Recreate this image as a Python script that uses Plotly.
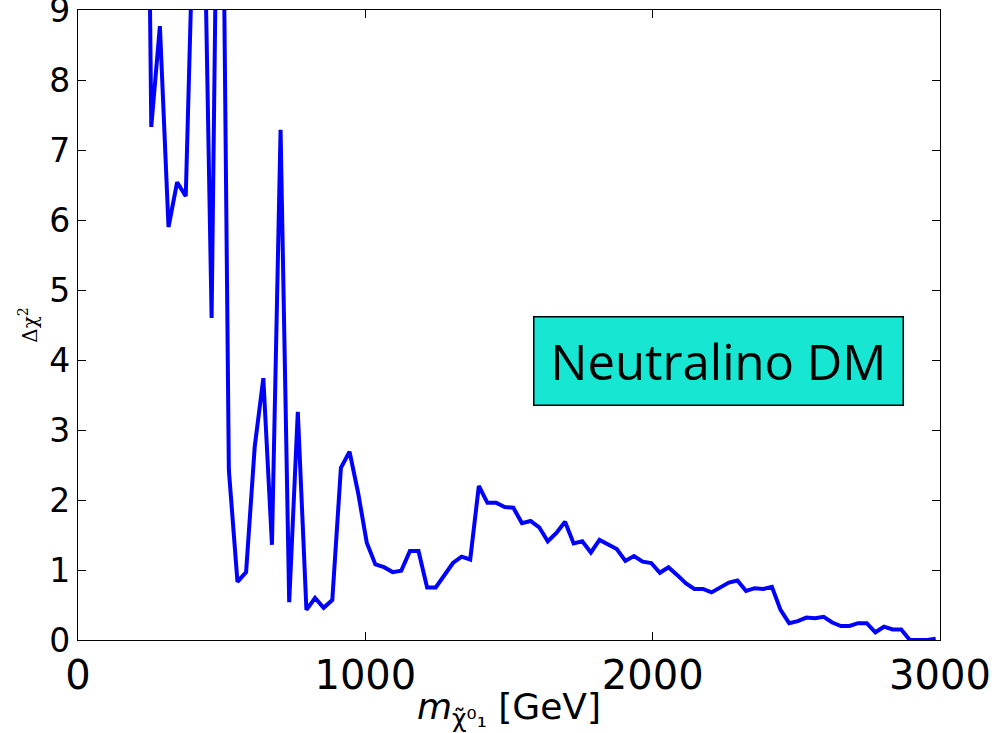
import plotly.graph_objects as go

# neutralino mass grid [GeV] and Delta chi^2 values
mass = [225, 255, 285, 315, 345, 375, 405, 435, 465, 495,
        525, 555, 585, 615, 645, 675, 705, 735, 765, 795,
        825, 855, 885, 915, 945, 975, 1005, 1035, 1065, 1095,
        1125, 1155, 1185, 1215, 1245, 1275, 1305, 1335, 1365, 1395,
        1425, 1455, 1485, 1515, 1545, 1575, 1605, 1635, 1665, 1695,
        1725, 1755, 1785, 1815, 1845, 1875, 1905, 1935, 1965, 1995,
        2025, 2055, 2085, 2115, 2145, 2175, 2205, 2235, 2265, 2295,
        2325, 2355, 2385, 2415, 2445, 2475, 2505, 2535, 2565, 2595,
        2625, 2655, 2685, 2715, 2745, 2775, 2805, 2835, 2865, 2895,
        2925, 2955, 2985]
dchi2 = [19.0, 7.33, 8.77, 5.9, 6.54, 6.34, 10.9, 11.5, 4.6, 15.0,
         2.43, 0.83, 0.97, 2.76, 3.74, 1.36, 7.29, 0.54, 3.26, 0.43,
         0.6, 0.46, 0.57, 2.46, 2.69, 2.1, 1.39, 1.08, 1.04, 0.97,
         0.99, 1.27, 1.27, 0.75, 0.75, 0.93, 1.1, 1.19, 1.15, 2.2,
         1.96, 1.96, 1.9, 1.89, 1.67, 1.7, 1.61, 1.41, 1.53, 1.69,
         1.38, 1.41, 1.25, 1.43, 1.36, 1.3, 1.13, 1.2, 1.12, 1.1,
         0.96, 1.04, 0.93, 0.81, 0.73, 0.73, 0.68, 0.75, 0.82, 0.85,
         0.7, 0.74, 0.73, 0.76, 0.43, 0.24, 0.27, 0.32, 0.31, 0.33,
         0.25, 0.2, 0.2, 0.24, 0.24, 0.11, 0.19, 0.15, 0.15, 0.0,
         0.0, 0.0, 0.02]

x_ticks = [0, 1000, 2000, 3000]
y_ticks = [0, 1, 2, 3, 4, 5, 6, 7, 8, 9]

fig = go.Figure()
fig.add_trace(go.Scatter(
    x=mass, y=dchi2, mode="lines",
    line=dict(color="#0000FF", width=4),
    showlegend=False,
))

axis_common = dict(
    showgrid=False, zeroline=False,
    showline=True, linecolor="black", linewidth=1.2,
    mirror="ticks", ticks="inside", ticklen=8, tickwidth=1, tickcolor="black",
    ticklabeloverflow="allow", automargin=False,
)

fig.update_layout(
    width=996, height=733,
    margin=dict(l=78, r=56, t=10, b=93),
    paper_bgcolor="white", plot_bgcolor="white",
    xaxis=dict(
        range=[0, 3000], tickvals=x_ticks, ticktext=[str(v) for v in x_ticks],
        tickfont=dict(family="DejaVu Sans", size=40, color="black"),
        title=dict(
            text="<i>m</i><sub>χ̃⁰₁</sub> [GeV]",
            font=dict(family="DejaVu Sans", size=36, color="black"),
            standoff=2,
        ),
        **axis_common,
    ),
    yaxis=dict(
        range=[0, 9], tickvals=y_ticks, ticktext=[str(v) for v in y_ticks],
        tickfont=dict(family="DejaVu Sans", size=33, color="black"),
        title=dict(
            text="Δχ<sup>2</sup>",
            font=dict(family="DejaVu Serif", size=20, color="black"),
            standoff=6,
        ),
        **axis_common,
    ),
    annotations=[dict(
        text="Neutralino DM",
        xref="paper", yref="paper", x=0.7425, y=0.443,
        xanchor="center", yanchor="middle",
        showarrow=False,
        font=dict(family="Open Sans", size=49, color="black"),
        bgcolor="#17E6D2", bordercolor="black", borderwidth=1.5,
        width=368, height=87, borderpad=0,
    )],
)

fig.write_html("out.html")
